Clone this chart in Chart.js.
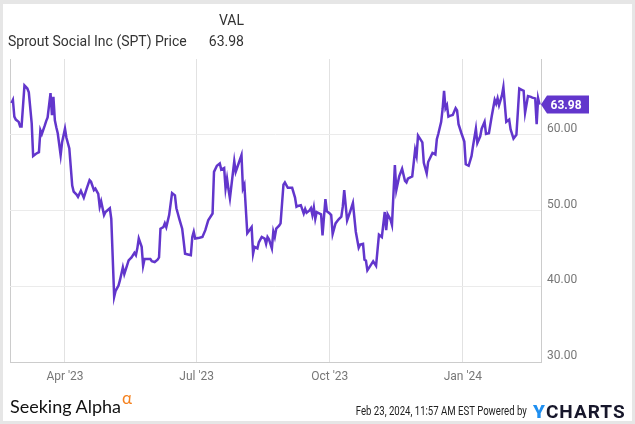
<!DOCTYPE html>
<html>
<head>
<meta charset="utf-8">
<script src="https://cdn.jsdelivr.net/npm/chart.js@4/dist/chart.umd.min.js"></script>
<style>
body{margin:0;width:635px;height:424px;background:#e6e6e6;font-family:Roboto,sans-serif;overflow:hidden;}
#page{position:absolute;left:3px;top:4px;width:629px;height:417px;background:#fff;}
#chart{position:absolute;left:0;top:0;}
.t{position:absolute;color:#333;font-size:14px;white-space:nowrap;line-height:16px;}
#sa{position:absolute;left:10px;top:395px;font-family:Lato,sans-serif;font-size:18px;color:#111;white-space:nowrap;}
#sa span{color:#f5821f;font-size:17px;position:relative;top:-9px;margin-left:1px;}
#stamp{position:absolute;right:108px;top:404px;font-size:12px;color:#222;white-space:nowrap;transform:scaleX(0.8);transform-origin:right center;}
#yc{position:absolute;left:533px;top:400px;font-size:19px;font-weight:bold;color:#17172b;letter-spacing:1px;white-space:nowrap;}
#yc b{color:#1f8ff0;}
</style>
</head>
<body>
<div id="page"></div>
<canvas id="chart" width="635" height="424"></canvas>
<div class="t" style="right:391px;top:12px">VAL</div>
<div class="t" id="name" style="left:8px;top:33px"></div>
<div class="t" id="lastVal" style="right:391px;top:33px"></div>
<div id="sa">Seeking Alpha<span>α</span></div>
<div id="stamp">Feb 23, 2024, 11:57 AM EST Powered by</div>
<div id="yc"><b>Y</b>CHARTS</div>
<script>
const seriesName = 'Sprout Social Inc (SPT) Price';

const dates = [
  '2023-02-23','2023-02-24','2023-02-25','2023-02-26','2023-02-28',
  '2023-03-01','2023-03-02','2023-03-04','2023-03-06','2023-03-07','2023-03-09','2023-03-10','2023-03-12','2023-03-14','2023-03-15','2023-03-16',
  '2023-03-18','2023-03-19','2023-03-20','2023-03-22','2023-03-23','2023-03-24','2023-03-25','2023-03-26','2023-03-27','2023-03-29','2023-03-30',
  '2023-04-01','2023-04-02','2023-04-04','2023-04-06','2023-04-07','2023-04-09','2023-04-10','2023-04-12','2023-04-14','2023-04-16',
  '2023-04-18','2023-04-19','2023-04-21','2023-04-22','2023-04-24','2023-04-25','2023-04-26','2023-04-28','2023-04-29',
  '2023-05-02','2023-05-03','2023-05-05','2023-05-06','2023-05-08','2023-05-09','2023-05-11','2023-05-12','2023-05-15','2023-05-16','2023-05-17',
  '2023-05-19','2023-05-20','2023-05-21','2023-05-22','2023-05-24','2023-05-25','2023-05-26','2023-05-28','2023-05-30','2023-05-31',
  '2023-06-02','2023-06-04','2023-06-05','2023-06-06','2023-06-08','2023-06-09','2023-06-10','2023-06-11','2023-06-12','2023-06-14','2023-06-16',
  '2023-06-17','2023-06-18','2023-06-19','2023-06-21','2023-06-22','2023-06-23','2023-06-25','2023-06-27','2023-06-28','2023-06-29','2023-06-30',
  '2023-07-03','2023-07-05','2023-07-07','2023-07-09','2023-07-12','2023-07-13','2023-07-15','2023-07-17','2023-07-18','2023-07-20','2023-07-21',
  '2023-07-22','2023-07-23','2023-07-24','2023-07-27','2023-07-28','2023-07-30',
  '2023-08-01','2023-08-02','2023-08-03','2023-08-05','2023-08-08','2023-08-09','2023-08-10','2023-08-12','2023-08-13','2023-08-15','2023-08-17',
  '2023-08-18','2023-08-19','2023-08-20','2023-08-22','2023-08-23','2023-08-24','2023-08-25','2023-08-27','2023-08-28','2023-08-30','2023-08-31',
  '2023-09-02','2023-09-04','2023-09-05','2023-09-07','2023-09-08','2023-09-09','2023-09-11','2023-09-13','2023-09-14','2023-09-15','2023-09-17',
  '2023-09-18','2023-09-19','2023-09-20','2023-09-21','2023-09-22','2023-09-24','2023-09-25','2023-09-26','2023-09-28','2023-09-29',
  '2023-10-01','2023-10-02','2023-10-03','2023-10-05','2023-10-07','2023-10-09','2023-10-10','2023-10-11','2023-10-13','2023-10-15',
  '2023-10-17','2023-10-19','2023-10-21','2023-10-22','2023-10-24','2023-10-25','2023-10-26','2023-10-27','2023-10-29','2023-10-31',
  '2023-11-02','2023-11-04','2023-11-06','2023-11-08','2023-11-09','2023-11-10','2023-11-12','2023-11-13','2023-11-15','2023-11-16',
  '2023-11-18','2023-11-20','2023-11-22','2023-11-23','2023-11-24','2023-11-26','2023-11-27','2023-11-29','2023-11-30',
  '2023-12-01','2023-12-04','2023-12-05','2023-12-07','2023-12-08','2023-12-10','2023-12-11','2023-12-13','2023-12-14','2023-12-15','2023-12-17',
  '2023-12-18','2023-12-19','2023-12-20','2023-12-21','2023-12-22','2023-12-23','2023-12-25','2023-12-27','2023-12-28','2023-12-29','2023-12-31',
  '2024-01-02','2024-01-03','2024-01-05','2024-01-07','2024-01-08','2024-01-10','2024-01-11','2024-01-13','2024-01-14','2024-01-16',
  '2024-01-17','2024-01-19','2024-01-21','2024-01-23','2024-01-24','2024-01-25','2024-01-26','2024-01-28','2024-01-29','2024-01-31',
  '2024-02-02','2024-02-03','2024-02-05','2024-02-07','2024-02-08','2024-02-09','2024-02-11','2024-02-12',
  '2024-02-13','2024-02-15','2024-02-17','2024-02-18','2024-02-20','2024-02-21','2024-02-22','2024-02-23'
];

const prices = [
  64.2,64.6,62.4,62.0,61.7,
  61.1,61.1,66.5,66.1,65.6,61.5,57.2,57.5,57.7,60.6,60.1,
  61.2,61.8,62.3,65.5,62.6,65.0,61.9,61.0,60.2,57.3,59.0,
  60.8,59.6,58.2,53.3,52.5,52.1,51.8,52.6,51.7,52.9,
  54.0,53.8,52.7,52.9,52.2,50.5,51.2,49.4,49.8,
  50.3,48.9,38.6,39.4,40.1,40.8,42.5,41.6,43.4,43.6,43.8,
  44.4,44.1,45.0,46.3,45.2,42.7,43.6,43.6,43.6,43.3,
  43.2,43.5,43.8,47.6,47.8,48.3,47.8,48.6,49.4,52.3,52.0,
  50.3,49.6,48.9,47.6,46.0,44.3,44.2,44.1,46.5,47.2,46.3,
  46.4,46.5,47.4,48.7,49.6,55.1,55.9,56.2,55.4,55.6,52.9,
  54.2,52.8,51.6,56.5,55.1,56.2,
  57.3,52.9,53.4,47.0,47.8,44.3,45.2,45.0,45.8,46.5,46.3,
  45.6,46.5,46.2,45.0,47.2,46.5,47.6,48.0,48.3,53.4,53.7,
  53.0,53.0,53.0,51.7,50.5,50.6,50.7,49.6,50.2,49.7,50.0,
  50.3,49.4,50.4,48.9,49.8,49.6,49.5,46.7,51.5,49.9,
  49.6,49.4,46.9,48.3,48.8,49.2,50.5,52.7,48.7,49.8,
  51.0,47.2,45.1,45.5,45.6,43.5,43.4,42.1,42.7,43.3,
  42.7,46.8,46.5,49.8,47.4,49.5,48.8,48.1,56.0,52.7,
  54.5,55.5,53.9,53.7,54.2,54.4,54.5,58.0,57.2,
  59.9,59.0,56.3,54.9,56.4,57.2,57.6,57.4,59.4,60.1,61.7,
  63.4,65.8,63.5,63.9,62.4,62.5,62.6,63.5,63.2,61.4,60.2,
  59.1,56.1,55.9,57.2,58.5,60.8,58.9,59.8,60.8,61.7,
  60.1,60.2,62.5,64.6,64.1,64.8,63.9,65.2,66.3,61.7,
  62.0,60.7,59.5,60.0,63.0,66.1,65.9,65.8,
  62.9,65.1,65.0,64.9,64.8,61.4,64.8,63.98
];

const tickDates = ['2023-04-01','2023-07-01','2023-10-01','2024-01-01'];
const tickLabels = ["Apr '23","Jul '23","Oct '23","Jan '24"];
const yTicks = [30,40,50,60];

const lineColor = '#6236cc';
const toMs = s => { const p = s.split('-').map(Number); return Date.UTC(p[0], p[1]-1, p[2]); };
const xMin = toMs('2023-02-22');
const xMax = toMs('2024-02-24');
const last = prices[prices.length-1];

document.getElementById('name').textContent = seriesName;
document.getElementById('lastVal').textContent = last.toFixed(2);

// purple tag with the latest price, pointing at the right edge
const lastTag = {
  id:'lastTag',
  afterDatasetsDraw(chart){
    const {ctx, chartArea, scales} = chart;
    const y = scales.y.getPixelForValue(last);
    const x0 = chartArea.right;
    ctx.save();
    ctx.fillStyle = lineColor;
    ctx.beginPath();
    ctx.moveTo(x0, y);
    ctx.lineTo(x0+6, y-9);
    ctx.lineTo(x0+48, y-9);
    ctx.lineTo(x0+48, y+9);
    ctx.lineTo(x0+6, y+9);
    ctx.closePath();
    ctx.fill();
    ctx.fillStyle = '#fff';
    ctx.font = 'bold 12px Roboto';
    ctx.textAlign = 'center';
    ctx.textBaseline = 'middle';
    ctx.fillText(last.toFixed(2), x0+25, y+1);
    ctx.restore();
  }
};

new Chart(document.getElementById('chart'),{
  type:'line',
  data:{
    datasets:[{
      label:seriesName,
      data:dates.map((d,i)=>({x:toMs(d), y:prices[i]})),
      borderColor:lineColor,
      borderWidth:2.5,
      pointRadius:0,
      tension:0,
      fill:false
    }]
  },
  options:{
    responsive:false,
    animation:false,
    layout:{padding:{left:10, top:59, right:0, bottom:0}},
    plugins:{legend:{display:false}, tooltip:{enabled:false}},
    scales:{
      x:{
        type:'linear',
        min:xMin,
        max:xMax,
        afterBuildTicks:s=>{ s.ticks = [xMin, ...tickDates.map(toMs)].map(v=>({value:v})); },
        afterFit:s=>{ s.height = 62; },
        ticks:{
          autoSkip:false, maxRotation:0, padding:8,
          color:'#777', font:{family:'Roboto', size:12},
          callback:(v,i)=> i===0 ? '' : tickLabels[i-1]
        },
        grid:{drawTicks:false, color:c=> c.index===0 ? '#cccccc' : '#e2e2e2'},
        border:{display:true, color:'#cccccc'}
      },
      y:{
        position:'right',
        min:30,
        max:70,
        afterBuildTicks:s=>{ s.ticks = yTicks.map(v=>({value:v})); },
        afterFit:s=>{ s.width = 94; },
        ticks:{
          padding:6, labelOffset:-6,
          color:'#777', font:{family:'Roboto', size:12},
          callback:v=> v.toFixed(2)
        },
        grid:{drawTicks:false, color:'#ebebeb'},
        border:{display:true, color:'#cccccc'}
      }
    }
  },
  plugins:[lastTag]
});
</script>
</body>
</html>
